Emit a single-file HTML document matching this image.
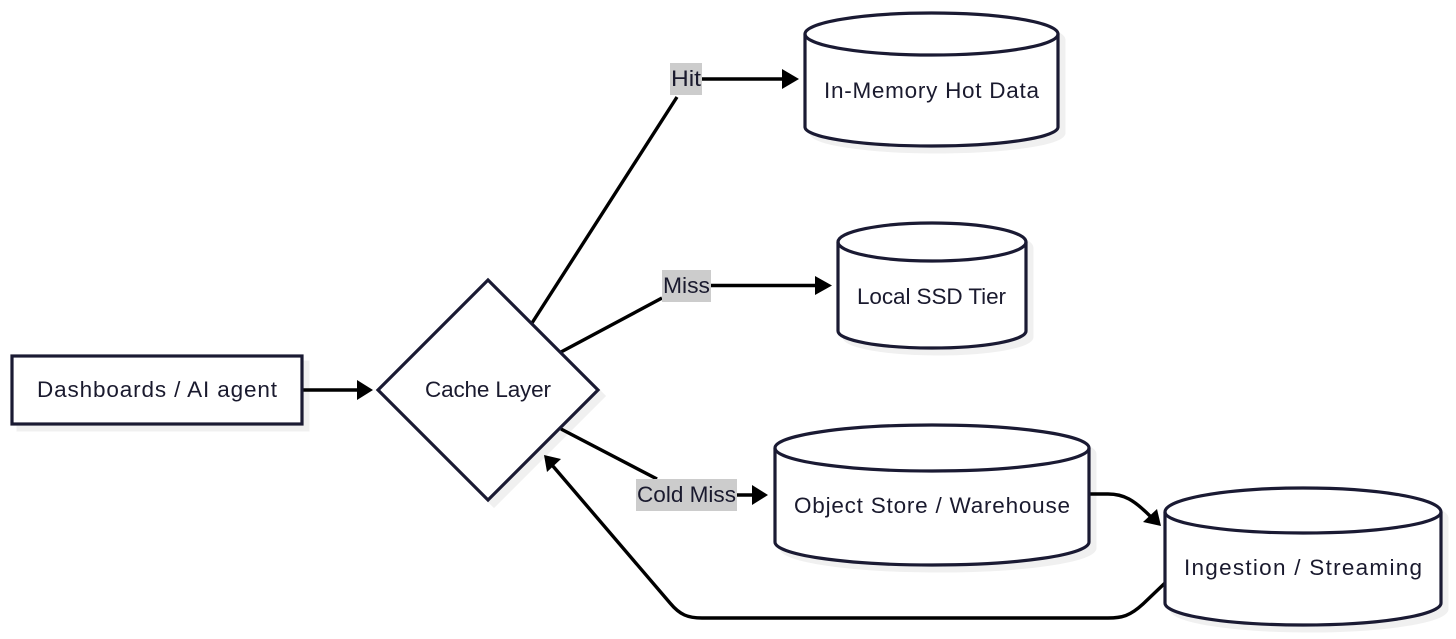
<!DOCTYPE html>
<html>
<head>
<meta charset="utf-8">
<style>
html,body{margin:0;padding:0;background:#fff;width:1456px;height:639px;overflow:hidden}
svg{display:block}
text{font-family:"Liberation Sans",sans-serif;font-size:22.5px;fill:#1a1a2e}
.n{fill:#fff;stroke:#1a1a33;stroke-width:3.2}
.s{fill:#f0f0f0;stroke:#f0f0f0;stroke-width:3}
.e{fill:none;stroke:#000;stroke-width:3.4}
.a{fill:#000}
.l{fill:#cccccc}
</style>
</head>
<body>
<svg width="1456" height="639" viewBox="0 0 1456 639" xmlns="http://www.w3.org/2000/svg">
<!-- shadows -->
<rect class="s" x="18" y="362" width="290" height="68"/>
<polygon class="s" points="384,396 494,286 604,396 494,506"/>
<path class="s" d="M811,40 A126.5,21 0 0 1 1064,40 V133 A126.5,19 0 0 1 811,133 Z"/>
<path class="s" d="M844,248 A94,19 0 0 1 1032,248 V337 A94,17 0 0 1 844,337 Z"/>
<path class="s" d="M781,454 A157,23 0 0 1 1095,454 V548 A157,23 0 0 1 781,548 Z"/>
<path class="s" d="M1171,518 A138,22 0 0 1 1447,518 V609 A138,22 0 0 1 1171,609 Z"/>

<!-- edges -->
<path class="e" d="M303,390 H358"/>
<polygon class="a" points="357,380 373,390 357,400"/>
<path class="e" d="M532,323 L677,97"/>
<path class="e" d="M702,79 H785"/>
<polygon class="a" points="782,69 799,79 782,89"/>
<path class="e" d="M561,352 L662,298"/>
<path class="e" d="M711,285.500 H818"/>
<polygon class="a" points="815,276 832,285.500 815,295"/>
<path class="e" d="M561,429 L657,479"/>
<path class="e" d="M737,495 H755"/>
<polygon class="a" points="752,485 768,495 752,505"/>
<path class="e" d="M1090,494 H1108 C1124,494 1134,500 1150,516"/>
<polygon class="a" points="1161,526 1143,522 1157,509"/>
<path class="e" d="M1165,583 L1143,604 C1130,616 1122,618 1108,618 H702 C688,618 680,615 670,603 L552,465"/>
<polygon class="a" points="544,455 561,459 547,472"/>

<!-- nodes -->
<rect class="n" x="12" y="356" width="290" height="68"/>
<polygon class="n" points="378,390 488,280 598,390 488,500"/>

<path class="n" d="M805,34 A126.500,21 0 0 1 1058,34 V127 A126.500,19 0 0 1 805,127 Z"/>
<path class="n" style="fill:none" d="M805,34 A126.500,21 0 0 0 1058,34"/>
<path class="n" d="M838,242 A94,19 0 0 1 1026,242 V331 A94,17 0 0 1 838,331 Z"/>
<path class="n" style="fill:none" d="M838,242 A94,19 0 0 0 1026,242"/>
<path class="n" d="M775,448 A157,23 0 0 1 1089,448 V542 A157,23 0 0 1 775,542 Z"/>
<path class="n" style="fill:none" d="M775,448 A157,23 0 0 0 1089,448"/>
<path class="n" d="M1165,512 A138,24 0 0 1 1441,512 V603 A138,22 0 0 1 1165,603 Z"/>
<path class="n" style="fill:none" d="M1165,512 A138,21 0 0 0 1441,512"/>

<!-- edge labels -->
<rect class="l" x="670" y="63" width="32" height="32"/>
<rect class="l" x="662" y="270" width="49" height="32"/>
<rect class="l" x="636" y="479" width="101" height="32"/>
<text x="671" y="86" textLength="30" lengthAdjust="spacingAndGlyphs">Hit</text>
<text x="663" y="293" textLength="47" lengthAdjust="spacingAndGlyphs">Miss</text>
<text x="637" y="502" textLength="99" lengthAdjust="spacingAndGlyphs">Cold Miss</text>

<!-- node labels -->
<text x="37" y="397" textLength="240" lengthAdjust="spacing">Dashboards / AI agent</text>
<text x="425" y="397" textLength="126" lengthAdjust="spacing">Cache Layer</text>
<text x="824" y="98" textLength="215" lengthAdjust="spacing">In-Memory Hot Data</text>
<text x="857" y="304" textLength="149" lengthAdjust="spacing">Local SSD Tier</text>
<text x="794" y="513" textLength="276" lengthAdjust="spacing">Object Store / Warehouse</text>
<text x="1184" y="575" textLength="238" lengthAdjust="spacing">Ingestion / Streaming</text>
</svg>
</body>
</html>
